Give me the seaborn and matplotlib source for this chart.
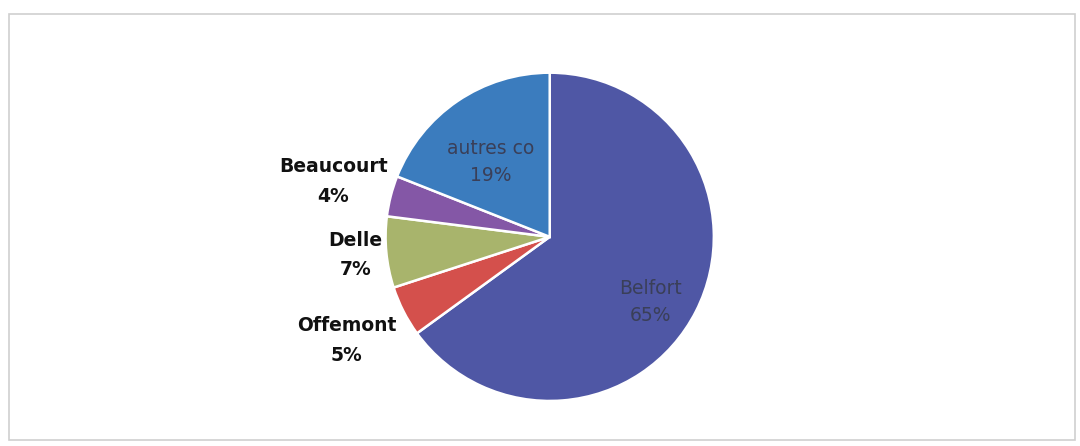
import numpy as np
import matplotlib
matplotlib.use("Agg")
import matplotlib.pyplot as plt
from matplotlib.patches import Rectangle
import seaborn as sns

categories = ["Belfort", "Offemont", "Delle", "Beaucourt", "autres co"]
values = [65, 5, 7, 4, 19]
colors = ["#4F57A5", "#D4504C", "#A8B46C", "#8457A6", "#3B7CBE"]
label_dist = [0.73, 1.39, 1.19, 1.36, 0.58]
label_rot = [-6, 0, 0, 0, 4]
inside = [True, False, False, False, True]

sns.set_theme(style="white")
plt.rcParams['font.family'] = ['DejaVu Sans']

fig = plt.figure(figsize=(10.8, 4.46), dpi=100)
fig.patches.append(Rectangle((0.008, 0.013), 0.987, 0.955, transform=fig.transFigure,
                             fill=False, edgecolor="#cfcfcf", linewidth=1.2))

ax = fig.add_axes([0.509 - 0.368 * 446 / 1080, 0.469 - 0.368, 0.736 * 446 / 1080, 0.736])
wedges, _ = ax.pie(values, colors=colors, startangle=90, counterclock=False,
                   wedgeprops=dict(edgecolor="white", linewidth=1.8))
ax.set_aspect("equal")
ax.set_xlim(-1.0, 1.0)
ax.set_ylim(-1.0, 1.0)

for w, name, v, d, r, ins in zip(wedges, categories, values, label_dist, label_rot, inside):
    ang = np.deg2rad((w.theta1 + w.theta2) / 2 + r)
    x, y = d * np.cos(ang), d * np.sin(ang)
    if ins:
        ax.text(x, y, f"{name}\n{v}%", ha="center", va="center", fontsize=13.5,
                color="#3a3f58", linespacing=1.55, clip_on=False)
    else:
        ax.text(x, y, f"{name}\n{v}%", ha="center", va="center", fontsize=13.5,
                fontweight="bold", color="#111111", linespacing=1.7, clip_on=False)

fig.savefig("out.png", dpi=100)
